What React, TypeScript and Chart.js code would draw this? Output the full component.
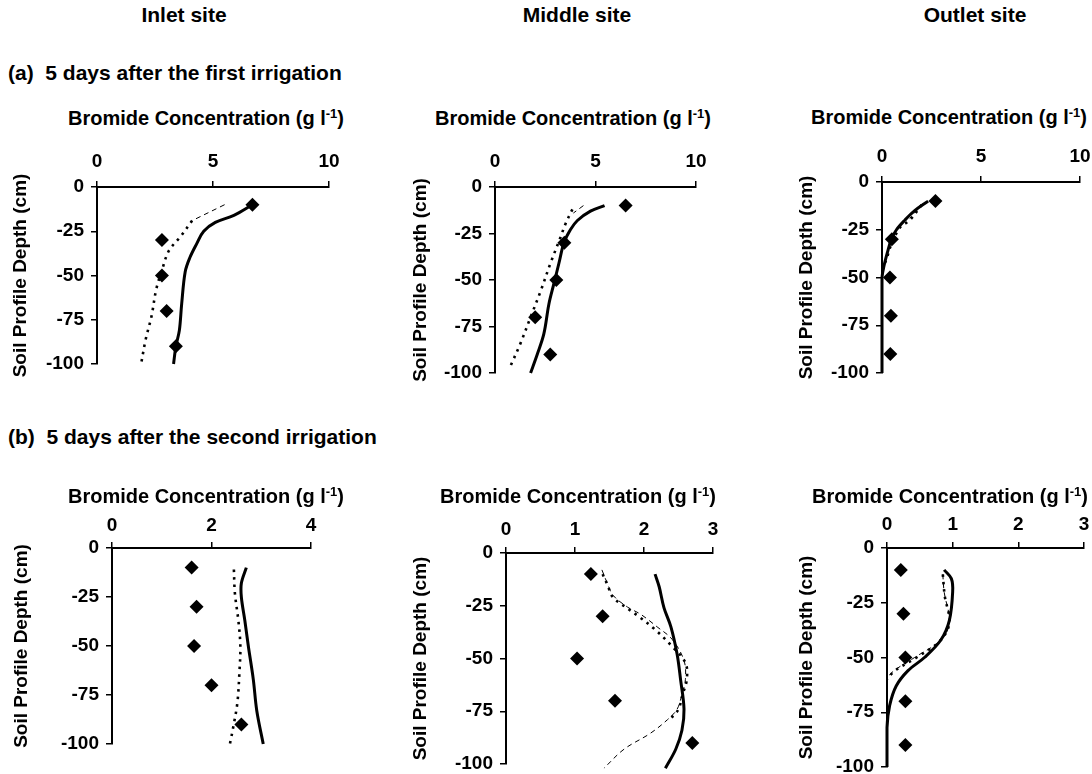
import React, { useEffect, useRef } from "react";
import { Chart, registerables } from "chart.js";

Chart.register(...registerables);

const FONT = "'Liberation Sans', Arial, Helvetica, sans-serif";

// Observation depths (cm) for the measured (diamond) values
const depthObs = [-10, -30, -50, -70, -90];

// ---- (a) 5 days after the first irrigation ----
const inletA_obs = [6.7, 2.8, 2.8, 3.0, 3.4];
const inletA_solidDepth = [-10, -16, -20, -25, -32, -40, -48, -66, -81, -90, -100];
const inletA_solid = [6.7, 5.9, 5.1, 4.6, 4.3, 4.0, 3.8, 3.65, 3.55, 3.4, 3.3];
const inletA_dashDepth = [-10, -19];
const inletA_dash = [5.5, 4.1];
const inletA_dotDepth = [-19, -28, -36, -47, -58, -73, -86, -100];
const inletA_dot = [4.1, 3.6, 3.1, 2.8, 2.55, 2.35, 2.1, 1.9];

const middleA_obs = [6.5, 3.45, 3.05, 2.0, 2.75];
const middleA_solidDepth = [-10, -13, -18, -23, -30, -41, -52, -63, -79, -90, -100];
const middleA_solid = [5.45, 4.75, 4.1, 3.75, 3.43, 3.18, 2.93, 2.68, 2.43, 2.1, 1.77];
const middleA_dashDepth = [-10, -14];
const middleA_dash = [4.4, 3.9];
const middleA_dotDepth = [-12, -20, -27, -41, -56, -70, -84, -96];
const middleA_dot = [3.85, 3.5, 3.26, 2.76, 2.27, 1.77, 1.27, 0.78];

const outletA_obs = [2.7, 0.5, 0.4, 0.45, 0.42];
const outletA_solidDepth = [-10, -15, -20, -25, -30, -37, -44, -50, -60, -100];
const outletA_solid = [2.33, 1.65, 1.15, 0.73, 0.47, 0.27, 0.1, 0.0, 0.0, 0.0];
const outletA_dashDepth = [-11, -19];
const outletA_dash = [2.1, 1.4];
const outletA_dotDepth = [-12, -20, -24, -34, -39, -43, -47];
const outletA_dot = [2.0, 1.4, 0.9, 0.42, 0.27, 0.13, 0.0];

// ---- (b) 5 days after the second irrigation ----
const inletB_obs = [1.6, 1.7, 1.65, 2.0, 2.6];
const inletB_solidDepth = [-10, -18, -25, -37, -50, -67, -83, -100];
const inletB_solid = [2.7, 2.6, 2.6, 2.67, 2.74, 2.84, 2.91, 3.04];
const inletB_dotDepth = [-11, -23, -37, -50, -64, -79, -91, -100];
const inletB_dot = [2.45, 2.47, 2.54, 2.58, 2.56, 2.52, 2.44, 2.37];

const middleB_obs = [1.23, 1.4, 1.03, 1.58, 2.7];
const middleB_solidDepth = [-10, -16, -26, -35, -48, -60, -74, -84, -93, -102];
const middleB_solid = [2.16, 2.22, 2.29, 2.39, 2.48, 2.53, 2.58, 2.55, 2.46, 2.31];
const middleB_dashDepth = [-8, -14.5, -20, -25.6, -29, -35, -41, -51, -60, -67, -74, -79, -85.5, -93, -102];
const middleB_dash = [1.39, 1.47, 1.55, 1.76, 1.95, 2.19, 2.41, 2.58, 2.6, 2.55, 2.48, 2.34, 2.09, 1.71, 1.42];
const middleB_dotDepth = [-10, -15, -21, -26, -30, -36, -44, -52, -60, -67, -74, -78];
const middleB_dot = [1.4, 1.47, 1.55, 1.75, 1.92, 2.15, 2.4, 2.6, 2.62, 2.56, 2.5, 2.4];

const outletB_obs = [0.21, 0.25, 0.28, 0.28, 0.28];
const outletB_solidDepth = [-10, -14, -20, -33, -42, -50, -56, -63, -72, -82, -100];
const outletB_solid = [0.87, 0.98, 1.0, 0.95, 0.82, 0.57, 0.32, 0.14, 0.04, 0.0, 0.0];
const outletB_dashDepth = [-12, -20, -34, -42, -50, -56, -60, -75];
const outletB_dash = [0.85, 0.87, 0.95, 0.82, 0.42, 0.11, 0.0, 0.0];
const outletB_dotDepth = [-12, -22, -34, -42, -50, -56, -60];
const outletB_dot = [0.85, 0.88, 0.95, 0.82, 0.45, 0.12, 0.0];

// Axis tick settings
const depthTicks = { min: -100, max: 0, step: 25 };
const xTicksA = { max: 10, step: 5 };
const xTicksInletB = { max: 4, step: 2 };
const xTicksMidOutB = { max: 3, step: 1 };

const siteTitles = ["Inlet site", "Middle site", "Outlet site"];
const rowTitles = ["(a)  5 days after the first irrigation", "(b)  5 days after the second irrigation"];
const yTitle = "Soil Profile Depth (cm)";

const pts = (depths: number[], vals: number[]) => depths.map((d, i) => ({ x: vals[i], y: d }));

function series(obs: number[], solid: [number[], number[]], dot?: [number[], number[]], dash?: [number[], number[]]) {
  const ds: any[] = [
    {
      data: pts(depthObs, obs),
      showLine: false,
      pointStyle: "rectRot",
      pointRadius: 7,
      backgroundColor: "#000",
      borderColor: "#000",
      borderWidth: 0,
      order: 0,
    },
    {
      data: pts(solid[0], solid[1]),
      showLine: true,
      borderColor: "#000",
      borderWidth: 3,
      pointRadius: 0,
      tension: 0.35,
      clip: false,
      order: 3,
    },
  ];
  if (dot) {
    ds.push({
      data: pts(dot[0], dot[1]),
      showLine: true,
      borderColor: "#000",
      borderWidth: 2.6,
      borderDash: [2.5, 5],
      pointRadius: 0,
      tension: 0.35,
      clip: false,
      order: 2,
    });
  }
  if (dash) {
    ds.push({
      data: pts(dash[0], dash[1]),
      showLine: true,
      borderColor: "#000",
      borderWidth: 1,
      borderDash: [5, 4],
      pointRadius: 0,
      tension: 0.35,
      clip: false,
      order: 1,
    });
  }
  return ds;
}

type PanelCfg = {
  left: number; top: number; w: number; h: number;
  xMax: number; xStep: number; yTitleX: number;
  titleCX: number; titleCY: number; tickPad: number;
  datasets: any[];
};

const panels: PanelCfg[] = [
  { left: 97, top: 187, w: 232, h: 177, xMax: xTicksA.max, xStep: xTicksA.step, yTitleX: 20, titleCX: 206, titleCY: 118, tickPad: 8,
    datasets: series(inletA_obs, [inletA_solidDepth, inletA_solid], [inletA_dotDepth, inletA_dot], [inletA_dashDepth, inletA_dash]) },
  { left: 495, top: 187, w: 201, h: 186, xMax: xTicksA.max, xStep: xTicksA.step, yTitleX: 420, titleCX: 573, titleCY: 118, tickPad: 8,
    datasets: series(middleA_obs, [middleA_solidDepth, middleA_solid], [middleA_dotDepth, middleA_dot], [middleA_dashDepth, middleA_dash]) },
  { left: 882, top: 182, w: 198, h: 191, xMax: xTicksA.max, xStep: xTicksA.step, yTitleX: 806, titleCX: 949, titleCY: 117, tickPad: 8,
    datasets: series(outletA_obs, [outletA_solidDepth, outletA_solid], [outletA_dotDepth, outletA_dot], [outletA_dashDepth, outletA_dash]) },
  { left: 112, top: 548, w: 199, h: 196, xMax: xTicksInletB.max, xStep: xTicksInletB.step, yTitleX: 21, titleCX: 206, titleCY: 496, tickPad: 5,
    datasets: series(inletB_obs, [inletB_solidDepth, inletB_solid], [inletB_dotDepth, inletB_dot]) },
  { left: 506, top: 553, w: 207, h: 211, xMax: xTicksMidOutB.max, xStep: xTicksMidOutB.step, yTitleX: 420, titleCX: 578, titleCY: 496, tickPad: 6,
    datasets: series(middleB_obs, [middleB_solidDepth, middleB_solid], [middleB_dotDepth, middleB_dot], [middleB_dashDepth, middleB_dash]) },
  { left: 887, top: 548, w: 197, h: 219, xMax: xTicksMidOutB.max, xStep: xTicksMidOutB.step, yTitleX: 806, titleCX: 950, titleCY: 496, tickPad: 6,
    datasets: series(outletB_obs, [outletB_solidDepth, outletB_solid], [outletB_dotDepth, outletB_dot], [outletB_dashDepth, outletB_dash]) },
];

const TICK_FONT = 19;
const YTITLE_FONT = 19;
const XH = 44;
const PR = 24;
const PB = 24;

function Panel({ cfg }: { cfg: PanelCfg }) {
  const ref = useRef<HTMLCanvasElement | null>(null);
  const lh = YTITLE_FONT * 1.2;
  const canvasLeft = Math.round(cfg.yTitleX - lh / 2 - 3);
  const YW = cfg.left - canvasLeft;
  const canvasTop = cfg.top - XH;
  const cw = YW + cfg.w + PR;
  const chh = XH + cfg.h + PB;

  useEffect(() => {
    if (!ref.current) return;
    const chart = new Chart(ref.current, {
      type: "scatter",
      data: { datasets: cfg.datasets },
      options: {
        responsive: false,
        animation: false,
        devicePixelRatio: 1,
        layout: { padding: { left: 0, top: 0, right: PR, bottom: PB } },
        plugins: { legend: { display: false }, tooltip: { enabled: false }, title: { display: false } },
        scales: {
          x: {
            type: "linear",
            position: "top",
            min: 0,
            max: cfg.xMax,
            afterFit: (s: any) => { s.height = XH; s.paddingLeft = 0; s.paddingRight = 0; },
            ticks: {
              stepSize: cfg.xStep,
              color: "#000",
              padding: cfg.tickPad,
              font: { family: FONT, size: TICK_FONT, weight: "bold" },
              maxRotation: 0,
            },
            grid: { drawOnChartArea: false, drawTicks: true, tickLength: 6, color: "#000", lineWidth: 1.5 },
            border: { display: true, color: "#000", width: 2 },
          },
          y: {
            type: "linear",
            position: "left",
            min: depthTicks.min,
            max: depthTicks.max,
            afterFit: (s: any) => { s.width = YW; s.paddingTop = 0; s.paddingBottom = 0; },
            ticks: {
              stepSize: depthTicks.step,
              color: "#000",
              padding: 7,
              font: { family: FONT, size: TICK_FONT, weight: "bold" },
            },
            grid: { drawOnChartArea: false, drawTicks: true, tickLength: 6, color: "#000", lineWidth: 1.5 },
            border: { display: true, color: "#000", width: 2 },
            title: {
              display: true,
              text: yTitle,
              color: "#000",
              padding: { top: 3, bottom: 0 },
              font: { family: FONT, size: YTITLE_FONT, weight: "bold" },
            },
          },
        },
      } as any,
    });
    return () => chart.destroy();
  }, []);

  return (
    <>
      <canvas
        ref={ref}
        width={cw}
        height={chh}
        style={{ position: "absolute", left: canvasLeft, top: canvasTop, width: cw, height: chh }}
      />
      <div
        style={{
          position: "absolute",
          left: cfg.titleCX,
          top: cfg.titleCY - 12,
          transform: "translateX(-50%)",
          whiteSpace: "nowrap",
          fontFamily: FONT,
          fontWeight: "bold",
          fontSize: 20,
          lineHeight: "24px",
          color: "#000",
        }}
      >
        Bromide Concentration (g l<sup style={{ fontSize: 13, verticalAlign: "7px", lineHeight: 0 }}>-1</sup>)
      </div>
    </>
  );
}

const siteX = [184, 577, 975];

export default function App() {
  const textBase: React.CSSProperties = {
    position: "absolute",
    fontFamily: FONT,
    fontWeight: "bold",
    color: "#000",
    whiteSpace: "pre",
    lineHeight: "24px",
  };
  return (
    <div style={{ position: "fixed", left: 0, top: 0, width: 1092, height: 774, background: "#fff", overflow: "hidden" }}>
      {siteTitles.map((t, i) => (
        <div key={t} style={{ ...textBase, fontSize: 21, left: siteX[i], top: 3, transform: "translateX(-50%)" }}>{t}</div>
      ))}
      <div style={{ ...textBase, fontSize: 21, left: 8, top: 61 }}>{rowTitles[0]}</div>
      <div style={{ ...textBase, fontSize: 21, left: 8, top: 425 }}>{rowTitles[1]}</div>
      {panels.map((p, i) => (
        <Panel key={i} cfg={p} />
      ))}
    </div>
  );
}
